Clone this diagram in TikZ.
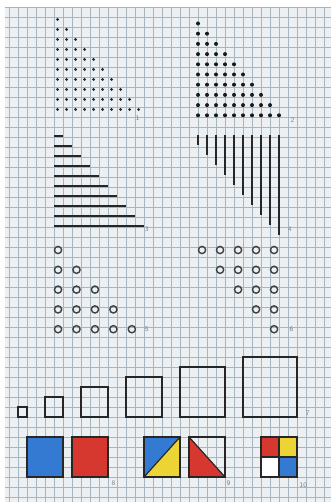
\documentclass[tikz,border=0pt]{standalone}
\definecolor{paper}{RGB}{236,240,242}
\definecolor{gridline}{RGB}{165,182,192}
\definecolor{cblue}{RGB}{52,122,210}
\definecolor{cred}{RGB}{214,56,48}
\definecolor{cyellow}{RGB}{236,212,52}
\begin{document}
\begin{tikzpicture}[x=9pt, y=-10pt,
    num/.style={font=\sffamily\fontsize{7}{7}\selectfont, text=black!50, inner sep=0pt},
    bar/.style={draw=black!85, line width=1.5pt},
    ring/.style={draw=black!75, line width=1.4pt},
    outline/.style={draw=black!85, line width=1.2pt}]
    % one unit = one grid cell (9px wide, 10px high), y downwards
    \useasboundingbox (0,0) rectangle (36.78,50.2);
    \fill[white] (0,0) rectangle (36.78,50.2);
    \fill[paper] (0.5,0.7) rectangle (36.78,50.2);

    % Grid
    \foreach \i in {1,...,36}
        \draw[gridline, line width=0.5pt] (\i,0.7) -- (\i,50.2);
    \foreach \j in {0,...,49}
        \draw[gridline, line width=0.5pt] (0.5,\j+0.7) -- (36.78,\j+0.7);

    % 1: small dots
    \foreach \j in {0,...,9}
        \foreach \k in {0,...,\j}
            \fill[black!85] (6.4+\k,1.95+\j) circle (1.6pt);
    \node[num] (l1) at (15.3,11.8) {1};

    % 2: big dots
    \foreach \j in {0,...,9}
        \foreach \k in {0,...,\j}
            \fill[black!90] (22+\k,2.35+1.02*\j) circle (2pt);
    \node[num] (l2) at (32.5,12.0) {2};

    % 3: horizontal bars
    \foreach \j in {0,...,9}
        \draw[bar] (6,13.6+\j) -- ++(\j+1,0);
    \node[num] (l3) at (16.3,22.9) {3};

    % 4: vertical bars
    \foreach \k in {0,...,9}
        \draw[bar] (22+\k,13.5) -- (22+\k,14.5+\k);
    \node[num] (l4) at (32.2,22.9) {4};

    % 5 and 6: rings
    \foreach \j in {0,...,4}
        \foreach \k in {0,...,\j}
            \draw[ring] (6.45+2.05*\k,25+1.98*\j) circle (3.6pt);
    \node[num] (l5) at (16.3,32.9) {5};
    \foreach \j in {0,...,4}
        \foreach \k in {\j,...,4}
            \draw[ring] (22.45+2*\k,25+1.98*\j) circle (3.6pt);
    \node[num] (l6) at (32.4,32.9) {6};

    % 7: growing squares
    \foreach \l/\s in {2/1,5/2,9/3,14/4,20/5,27/6}
        \draw[outline] (\l,41.7) rectangle ++(\s,-\s);
    \node[num] (l7) at (34.2,41.3) {7};

    % 8: blue and red squares
    \filldraw[outline, fill=cblue] (3,43.7) rectangle (7,47.7);
    \filldraw[outline, fill=cred] (8,43.7) rectangle (12,47.7);
    \node[num] (l8) at (12.6,48.3) {8};

    % 9: halved squares
    \fill[cblue] (16,47.7) -- (16,43.7) -- (20,43.7) -- cycle;
    \fill[cyellow] (16,47.7) -- (20,43.7) -- (20,47.7) -- cycle;
    \draw[outline] (16,43.7) rectangle (20,47.7);
    \draw[outline] (16,47.7) -- (20,43.7);
    \fill[cred] (21,43.7) -- (25,47.7) -- (21,47.7) -- cycle;
    \draw[outline] (21,43.7) rectangle (25,47.7);
    \draw[outline] (21,43.7) -- (25,47.7);
    \node[num] (l9) at (25.4,48.3) {9};

    % 10: quartered square
    \fill[cred] (29,43.7) rectangle (31,45.7);
    \fill[cyellow] (31,43.7) rectangle (33,45.7);
    \fill[white] (29,45.7) rectangle (31,47.7);
    \fill[cblue] (31,45.7) rectangle (33,47.7);
    \draw[outline] (29,43.7) rectangle (33,47.7);
    \draw[outline] (31,43.7) -- (31,47.7) (29,45.7) -- (33,45.7);
    \node[num] (l10) at (33.7,48.5) {10};
\end{tikzpicture}
\end{document}
